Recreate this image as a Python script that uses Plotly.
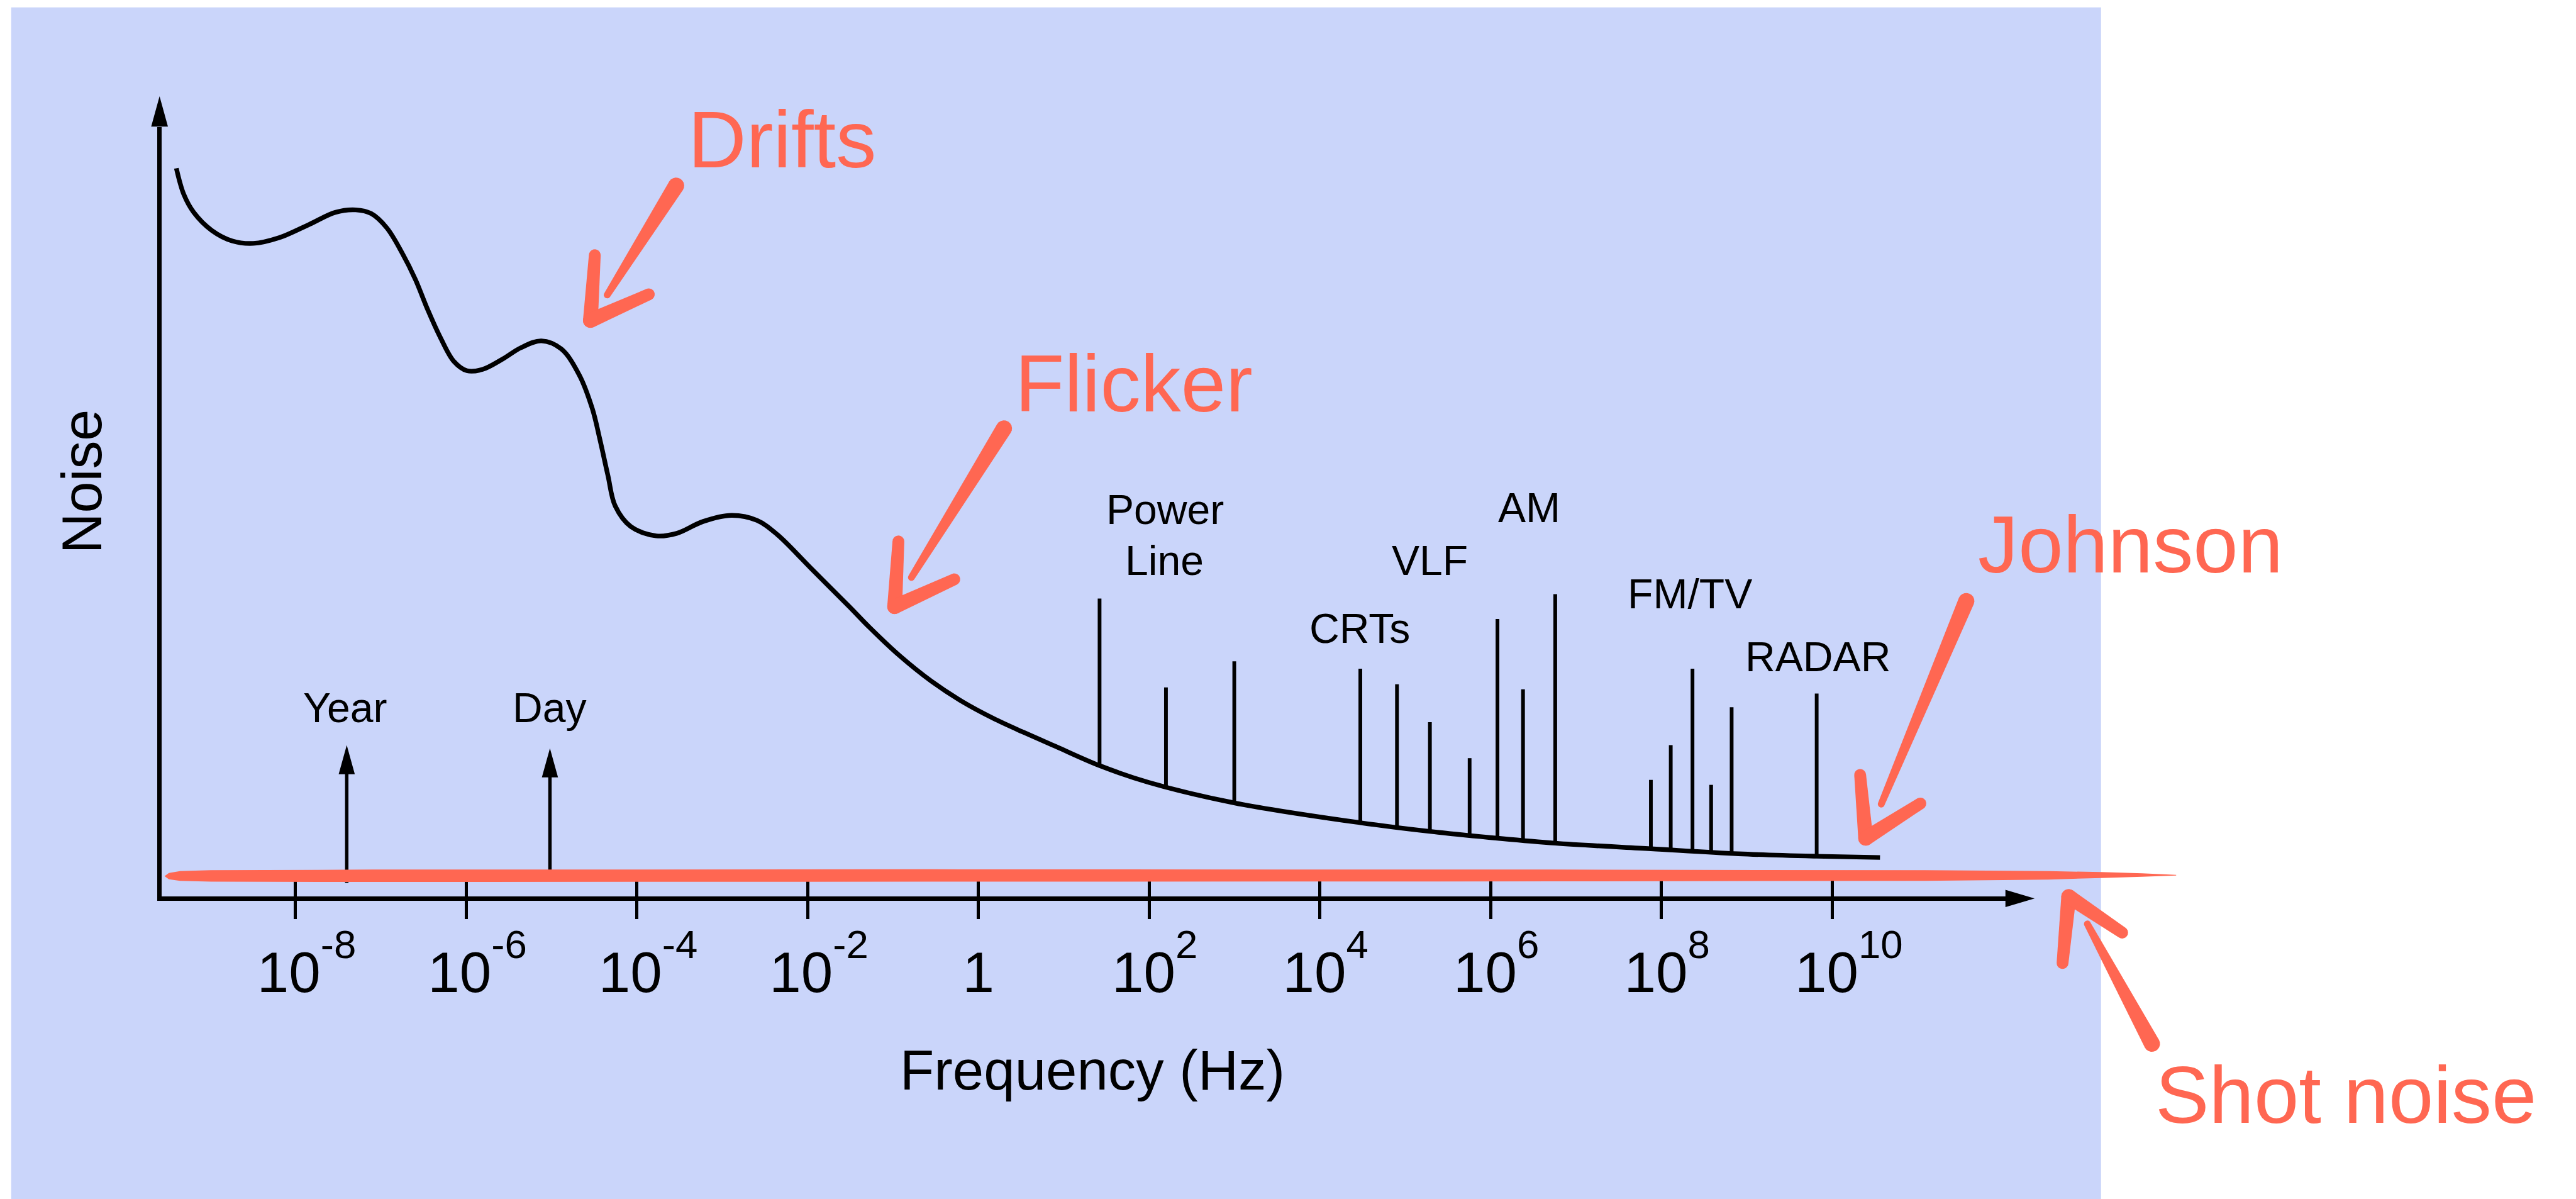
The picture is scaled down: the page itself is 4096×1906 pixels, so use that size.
import math
import plotly.graph_objects as go

# ---------------- data ----------------
# Noise spectrum curve: frequency as log10(Hz), noise in arbitrary units
curve_log10_hz = [-9.396, -9.309, -9.193, -8.982, -8.742, -8.495, -8.196, -7.833, -7.535, -7.295,
                  -7.113, -6.931, -6.749, -6.596, -6.451, -6.298, -6.145, -5.993, -5.811, -5.571,
                  -5.360, -5.120, -4.887, -4.676, -4.524, -4.436, -4.342, -4.255, -4.073, -3.775,
                  -3.535, -3.229, -2.895, -2.596, -2.356, -1.964, -1.513, -1.280, -0.916, -0.553,
                  -0.189, 0.175, 0.538, 0.902, 1.418, 1.993, 2.996, 4.473, 5.287, 6.080,
                  6.756, 7.876, 8.902, 9.818, 10.560]
curve_noise = [11.76, 11.34, 11.05, 10.76, 10.59, 10.55, 10.64, 10.86, 11.05, 11.09,
               11.03, 10.80, 10.39, 9.97, 9.48, 9.02, 8.65, 8.50, 8.52, 8.69,
               8.87, 8.98, 8.85, 8.43, 7.89, 7.40, 6.82, 6.32, 5.99, 5.84,
               5.88, 6.07, 6.17, 6.09, 5.86, 5.32, 4.70, 4.37, 3.90, 3.50,
               3.17, 2.90, 2.67, 2.45, 2.14, 1.87, 1.54, 1.22, 1.08, 0.97,
               0.89, 0.80, 0.72, 0.68, 0.66]

# Interference spikes (Power line, CRTs, VLF, AM, FM/TV, RADAR)
spike_hz = [26.2, 157, 991, 2.97e4, 7.98e4, 1.94e5, 5.66e5, 1.20e6, 2.39e6, 5.70e6,
            7.52e7, 1.285e8, 2.31e8, 3.82e8, 6.64e8, 6.58e9]
spike_top = [4.83, 3.40, 3.82, 3.70, 3.45, 2.84, 2.26, 4.50, 3.37, 4.90,
             1.91, 2.47, 3.70, 1.83, 3.08, 3.30]
spike_base = [2.14, 1.81, 1.54, 1.22, 1.13, 1.08, 1.00, 0.97, 0.94, 0.89,
              0.80, 0.78, 0.76, 0.74, 0.72, 0.68]

# Periodic events (Year, Day)
event_names = ["Year", "Day"]
event_hz = [3.98e-8, 9.55e-6]
event_top = [2.47, 2.42]
event_base = [0.25, 0.28]

# Axis ticks
tick_exponents = [-8, -6, -4, -2, 0, 2, 4, 6, 8, 10]

# ---------------- geometry helpers ----------------
W_REF, H_REF = 4149.0, 1931.0
S = 0.987
W, H = 4096, 1906
FONT = "Liberation Sans, Arial, Helvetica, sans-serif"
RED = "#FF6752"
BLUE = "#CAD5FA"


def X(xr):
    return xr / W_REF


def Y(yr):
    return 1.0 - yr / H_REF


def path_of(points):
    return "M " + " L ".join(f"{X(x):.6f},{Y(y):.6f}" for x, y in points) + " Z"


def capsule(p0, p1, w0, w1, n=10):
    x0, y0 = p0
    x1, y1 = p1
    ang = math.atan2(y1 - y0, x1 - x0)
    pts = []
    for i in range(n + 1):
        a = ang - math.pi / 2 + math.pi * i / n
        pts.append((x1 + w1 / 2 * math.cos(a), y1 + w1 / 2 * math.sin(a)))
    for i in range(n + 1):
        a = ang + math.pi / 2 + math.pi * i / n
        pts.append((x0 + w0 / 2 * math.cos(a), y0 + w0 / 2 * math.sin(a)))
    return pts


# axis placement (reference pixels)
X_AXIS_Y = 1447.0      # centre of x-axis line
Y_AXIS_X = 257.0       # centre of y-axis line
AX_LW = 7.5
PX_PER_DEC = 137.5
X_OF_1HZ = 1576.0
NOISE_PX = 100.0
dom_left = Y_AXIS_X + AX_LW / 2
dom_right = 3240.0
dom_bottom = X_AXIS_Y - AX_LW / 2
dom_top = 205.0
x_range = [(dom_left - X_OF_1HZ) / PX_PER_DEC, (dom_right - X_OF_1HZ) / PX_PER_DEC]
y_range = [(X_AXIS_Y - dom_bottom) / NOISE_PX, (X_AXIS_Y - dom_top) / NOISE_PX]


def data_to_ref(f, n):
    """Position of a data point in reference pixels, following the axis ranges above."""
    return X_OF_1HZ + PX_PER_DEC * math.log10(f), X_AXIS_Y - NOISE_PX * n


# tick labels: base font is large so that the superscript is raised like the reference;
# the visible glyphs are sized with spans
BASE_TICK = 130 * S
MAIN_PX = 92 * S
SUP_PX = 0.7 * MAIN_PX


def tick_label(e):
    main = f'<span style="font-size:{MAIN_PX:.1f}px">{"1" if e == 0 else "10"}</span>'
    if e == 0:
        return main
    ex = str(e)
    npad = 3 if len(ex) == 2 and not ex.startswith("-") else (2 if ex.startswith("-") else 1)
    pad = f'<span style="font-size:{SUP_PX:.1f}px">' + "\u00a0" * npad + "</span>"
    sup = f'<sup><span style="font-size:{SUP_PX:.1f}px">{ex}</span></sup>'
    return pad + main + sup


tick_vals = [10.0 ** e for e in tick_exponents]
tick_text = [tick_label(e) for e in tick_exponents]

fig = go.Figure()

# main noise curve
fig.add_trace(go.Scatter(
    x=[10.0 ** v for v in curve_log10_hz], y=curve_noise,
    mode="lines", line=dict(color="black", width=7.5 * S, shape="spline", smoothing=1.0),
    hoverinfo="skip", showlegend=False))

# spikes
sx, sy = [], []
for f, b, t in zip(spike_hz, spike_base, spike_top):
    sx += [f, f, None]
    sy += [b, t, None]
fig.add_trace(go.Scatter(x=sx, y=sy, mode="lines",
                         line=dict(color="black", width=6 * S),
                         hoverinfo="skip", showlegend=False))

# Year / Day arrows (shafts)
ex_, ey_ = [], []
for f, b, t in zip(event_hz, event_base, event_top):
    ex_ += [f, f, None]
    ey_ += [b, t - 0.3, None]
fig.add_trace(go.Scatter(x=ex_, y=ey_, mode="lines",
                         line=dict(color="black", width=5.5 * S),
                         hoverinfo="skip", showlegend=False))

# dummy trace for the overlay axis (crossing ticks)
fig.add_trace(go.Scatter(x=[1.0], y=[5.0], xaxis="x2", yaxis="y", mode="markers",
                         marker=dict(opacity=0), hoverinfo="skip", showlegend=False))

shapes = []
# blue panel
shapes.append(dict(type="rect", xref="paper", yref="paper", x0=X(18), x1=X(3384),
                   y0=0, y1=Y(12), fillcolor=BLUE, line=dict(width=0), layer="below"))
# axis arrowheads
shapes.append(dict(type="path", xref="paper", yref="paper", layer="above",
                   path=path_of([(3230, X_AXIS_Y - 14), (3277, X_AXIS_Y), (3230, X_AXIS_Y + 14)]),
                   fillcolor="black", line=dict(width=0)))
shapes.append(dict(type="path", xref="paper", yref="paper", layer="above",
                   path=path_of([(Y_AXIS_X - 13.5, 204), (Y_AXIS_X, 155), (Y_AXIS_X + 13.5, 204)]),
                   fillcolor="black", line=dict(width=0)))
# Year / Day arrowheads, placed from the event data
for f, t in zip(event_hz, event_top):
    tx, ty = data_to_ref(f, t)
    shapes.append(dict(type="path", xref="paper", yref="paper", layer="above",
                       path=path_of([(tx - 13, ty + 47), (tx, ty), (tx + 13, ty + 47)]),
                       fillcolor="black", line=dict(width=0)))

# red shot-noise band
band = [(265, 1411), (272, 1406), (290, 1403), (340, 1401.5), (600, 1400.5), (1500, 1400),
        (2500, 1400.5), (3100, 1401.5), (3300, 1403), (3384, 1404.5), (3450, 1406.5), (3505, 1409),
        (3505, 1410), (3450, 1412), (3384, 1414), (3300, 1416.5), (3100, 1418.5),
        (2500, 1419.5), (1500, 1420), (600, 1420.5), (340, 1420), (290, 1418.5), (272, 1416)]
shapes.append(dict(type="path", xref="paper", yref="paper", layer="above",
                   path=path_of(band), fillcolor=RED, line=dict(width=0)))

# hand-drawn red arrows: shaft start, shaft end, tip, barb1, barb2
arrows = [
    ((1089, 299), (978, 475), (951, 516), (958, 411), (1045, 474)),
    ((1617, 690), (1468, 930), (1441, 977), (1447, 872), (1537, 933)),
    ((3167, 968), (3030, 1295), (3005, 1350), (2996, 1248), (3093, 1294)),
    ((3466, 1681), (3362, 1488), (3332, 1444), (3322, 1551), (3418, 1502)),
]
for s0, s1, tip, b1, b2 in arrows:
    for pts in (capsule(s0, s1, 26, 11), capsule(tip, b1, 24, 19), capsule(tip, b2, 24, 19)):
        shapes.append(dict(type="path", xref="paper", yref="paper", layer="above",
                           path=path_of(pts), fillcolor=RED, line=dict(width=0)))

annotations = []


def label(text, xr, yr, size, color="black", angle=0):
    annotations.append(dict(text=text, x=X(xr), y=Y(yr), xref="paper", yref="paper",
                            xanchor="center", yanchor="middle", showarrow=False,
                            textangle=angle, font=dict(family=FONT, size=size, color=color)))


for t, xr, yr in [("Power", 1876.5, 821), ("Line", 1875.5, 902.5), ("CRTs", 2190, 1012.5),
                  ("VLF", 2302.5, 903), ("AM", 2462.5, 818), ("FM/TV", 2721.5, 956),
                  ("RADAR", 2927.5, 1058), (event_names[0], 556, 1140), (event_names[1], 885.5, 1140)]:
    label(t, xr, yr, 67 * S)

for t, xr, yr in [("Drifts", 1260, 224.5), ("Flicker", 1826.5, 618),
                  ("Johnson", 3431.5, 877), ("Shot noise", 3778.5, 1763.5)]:
    label(t, xr, yr, 130 * S, color=RED)

label("Frequency (Hz)", 1759.5, 1723.5, 90 * S)
label("Noise", 132, 775, 91 * S, angle=-90)

axis_common = dict(type="log", domain=[X(dom_left), X(dom_right)], range=x_range,
                   showgrid=False, zeroline=False, fixedrange=True,
                   tickvals=tick_vals, tickcolor="black", tickwidth=5 * S)

fig.update_layout(
    width=W, height=H, autosize=False,
    margin=dict(l=0, r=0, t=0, b=0, pad=0),
    paper_bgcolor="white", plot_bgcolor="rgba(0,0,0,0)",
    showlegend=False,
    xaxis=dict(**axis_common, anchor="y", showline=True, linecolor="black", linewidth=AX_LW * S,
               ticks="outside", ticklen=30 * S, ticktext=tick_text,
               tickfont=dict(family=FONT, size=BASE_TICK, color="black"),
               ticklabelstandoff=-38),
    xaxis2=dict(**axis_common, anchor="y", overlaying="x", matches="x", side="bottom",
                showline=False, ticks="inside", ticklen=27 * S, showticklabels=False),
    yaxis=dict(domain=[Y(dom_bottom), Y(dom_top)], range=y_range, anchor="x",
               showline=True, linecolor="black", linewidth=AX_LW * S,
               ticks="", showticklabels=False, showgrid=False, zeroline=False, fixedrange=True),
    shapes=shapes,
    annotations=annotations,
)

fig.write_html("out.html")
